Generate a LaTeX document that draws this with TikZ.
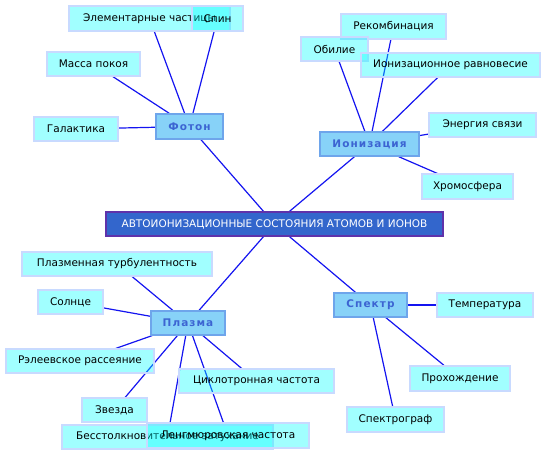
\documentclass[tikz,border=0pt]{standalone}
\usepackage{fontspec}
\setmainfont{DejaVu Sans}
\newfontfamily\hubfont[LetterSpace=10]{DejaVu Sans}
\definecolor{linec}{RGB}{20,20,240}
\definecolor{leaffill}{RGB}{0,255,255}
\definecolor{leafborder}{RGB}{200,218,255}
\definecolor{hubfill}{RGB}{135,210,248}
\definecolor{hubborder}{RGB}{110,165,235}
\definecolor{hubtext}{RGB}{60,100,210}
\definecolor{rootfill}{RGB}{51,102,204}
\definecolor{rootborder}{RGB}{95,50,170}
\pgfdeclarelayer{bg}
\pgfsetlayers{bg,main}
\newcommand\mybox[7]{\node[#1, minimum width={#4-#2}, minimum height={#5-#3}] (#6) at ({(#2+#4)/2},{(#3+#5)/2}) {#7};}
\begin{document}
\begin{tikzpicture}[x=1pt,y=-1pt,
  leaf/.style={draw=leafborder, line width=1.2pt, fill=leaffill, fill opacity=0.37, text opacity=1, inner sep=0pt, font=\fontsize{10.5}{12}\selectfont},
  hub/.style={draw=hubborder, line width=1.2pt, fill=hubfill, text=hubtext, inner sep=0pt, font=\hubfont\bfseries\fontsize{10.5}{12}\selectfont},
  rootbox/.style={draw=rootborder, line width=1.2pt, fill=rootfill, text=white, inner sep=0pt, font=\fontsize{10.5}{12}\selectfont},
  conn/.style={draw=linec, line width=1.2pt}]
\useasboundingbox (0,0) rectangle (547,456);
\mybox{rootbox}{106}{212}{443}{236}{root}{АВТОИОНИЗАЦИОННЫЕ СОСТОЯНИЯ АТОМОВ И ИОНОВ}
\mybox{hub}{156}{114}{223}{139}{foton}{Фотон}
\mybox{hub}{320}{132}{419}{156}{ion}{Ионизация}
\mybox{hub}{151}{311}{225}{335}{plazma}{Плазма}
\mybox{hub}{334}{293}{407}{317}{spektr}{Спектр}
\mybox{leaf}{69}{6}{230}{31}{elem}{Элементарные частицы}
\mybox{leaf}{192}{6}{243}{31}{spin}{Спин}
\mybox{leaf}{47}{52}{140}{76}{massa}{Масса покоя}
\mybox{leaf}{34}{117}{118}{141}{galak}{Галактика}
\mybox{leaf}{341}{14}{446}{39}{rekomb}{Рекомбинация}
\mybox{leaf}{301}{37}{368}{61}{obil}{Обилие}
\mybox{leaf}{361}{53}{540}{77}{ionrav}{Ионизационное равновесие}
\mybox{leaf}{429}{113}{536}{137}{energ}{Энергия связи}
\mybox{leaf}{422}{174}{513}{199}{hrom}{Хромосфера}
\mybox{leaf}{22}{252}{212}{276}{turb}{Плазменная турбулентность}
\mybox{leaf}{38}{290}{103}{314}{sun}{Солнце}
\mybox{leaf}{6}{349}{154}{373}{rel}{Рэлеевское рассеяние}
\mybox{leaf}{179}{369}{334}{393}{cikl}{Циклотронная частота}
\mybox{leaf}{82}{398}{147}{422}{zvezda}{Звезда}
\mybox{leaf}{62}{425}{273}{449}{besst}{Бесстолкновительное затухание}
\mybox{leaf}{147}{423}{309}{448}{lengm}{Ленгмюровская частота}
\mybox{leaf}{437}{293}{533}{317}{temp}{Температура}
\mybox{leaf}{410}{366}{510}{391}{prohozh}{Прохождение}
\mybox{leaf}{347}{407}{444}{432}{spgraf}{Спектрограф}
\begin{pgfonlayer}{bg}
\draw[conn] (root) -- (foton);
\draw[conn] (root) -- (ion);
\draw[conn] (root) -- (plazma);
\draw[conn] (root) -- (spektr);
\draw[conn] (foton) -- (elem);
\draw[conn] (foton) -- (spin);
\draw[conn] (foton) -- (massa);
\draw[conn] (foton) -- (galak);
\draw[conn] (ion) -- (rekomb);
\draw[conn] (ion) -- (obil);
\draw[conn] (ion) -- (ionrav);
\draw[conn] (ion) -- (energ);
\draw[conn] (ion) -- (hrom);
\draw[conn] (plazma) -- (turb);
\draw[conn] (plazma) -- (sun);
\draw[conn] (plazma) -- (rel);
\draw[conn] (plazma) -- (cikl);
\draw[conn] (plazma) -- (zvezda);
\draw[conn] (plazma) -- (besst);
\draw[conn] (plazma) -- (lengm);
\draw[conn] (spektr) -- (temp);
\draw[conn] (spektr) -- (prohozh);
\draw[conn] (spektr) -- (spgraf);
\end{pgfonlayer}
\end{tikzpicture}
\end{document}
